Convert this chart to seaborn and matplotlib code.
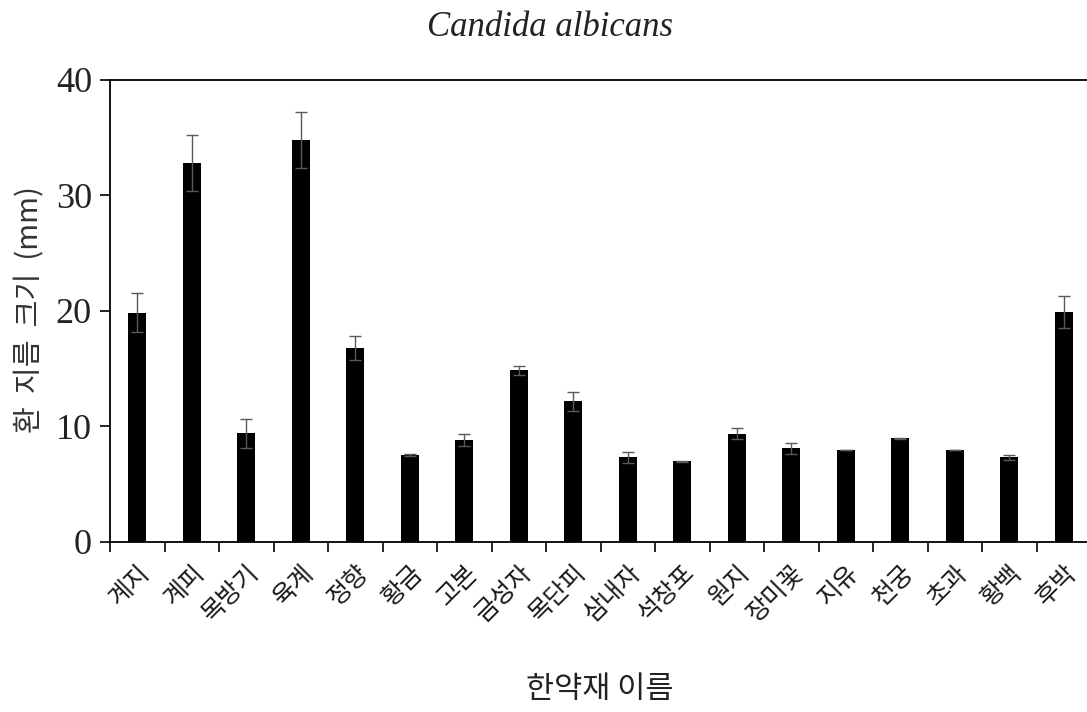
import matplotlib
matplotlib.use("Agg")
import matplotlib.pyplot as plt
import numpy as np
import pandas as pd
import seaborn as sns

# Inhibition zone of Candida albicans for each herbal extract
herbs = ["계지", "계피", "목방기", "육계", "정향", "황금", "고본", "금성자", "목단피",
         "삼내자", "석창포", "원지", "장미꽃", "지유", "천궁", "초과", "황백", "후박"]
zone_mm = [19.85, 32.8, 9.4, 34.8, 16.75, 7.5, 8.8, 14.85, 12.15,
           7.3, 6.95, 9.35, 8.1, 7.95, 8.95, 7.95, 7.3, 19.9]
zone_sd = [1.7, 2.4, 1.25, 2.4, 1.05, 0.08, 0.5, 0.38, 0.8,
           0.5, 0.05, 0.47, 0.48, 0.0, 0.06, 0.0, 0.23, 1.4]
y_ticks = [0, 10, 20, 30, 40]

KR = ["Noto Sans CJK KR", "DejaVu Sans"]
SERIF = ["Liberation Serif", "DejaVu Serif"]

sns.set_theme(style="white")
plt.rcParams["font.family"] = KR

df = pd.DataFrame({"herb": herbs, "zone": zone_mm, "sd": zone_sd})

fig = plt.figure(figsize=(10.87, 7.12), dpi=100)
ax = fig.add_axes([110 / 1087, 1 - 541.7 / 712, 981 / 1087, (541.7 - 80) / 712])

sns.barplot(data=df, x="herb", y="zone", color="black", width=0.33,
            saturation=1, errorbar=None, ax=ax, edgecolor="black", linewidth=0)
xpos = np.arange(len(herbs))
ax.errorbar(xpos, df["zone"], yerr=df["sd"], fmt="none", ecolor="#5a5a5a",
            elinewidth=1.0, capsize=4, capthick=1.0, zorder=5)

ax.set_xlim(-0.5, len(herbs) - 0.5)
ax.set_ylim(0, 40)

# Frame: left, bottom and top lines
for side in ["left", "bottom", "top"]:
    ax.spines[side].set_visible(True)
    ax.spines[side].set_color("black")
    ax.spines[side].set_linewidth(1.3)
ax.spines["right"].set_visible(False)

# Category names at bar centres, tick marks at category boundaries
ax.set_xticks(xpos)
ax.set_xticklabels(herbs, rotation=45, ha="right", rotation_mode="anchor",
                   fontsize=18, family=KR, color="#1a1a1a")
ax.tick_params(axis="x", which="major", length=0, pad=13)
ax.set_xticks(np.arange(-0.5, len(herbs), 1.0), minor=True)
ax.tick_params(axis="x", which="minor", length=7, width=1.2, direction="out",
               color="black", bottom=True)

ax.set_yticks(y_ticks)
ax.set_yticklabels([str(v) for v in y_ticks], fontsize=26, family=SERIF,
                   color="#222222")
ax.tick_params(axis="y", which="major", length=7, width=1.2, direction="out",
               color="black", left=True, pad=6)

ax.set_xlabel("")
ax.set_ylabel("")
ax.grid(False)

fig.text(600 / 1087, 1 - 690 / 712, "한약재 이름", ha="center", va="center",
         fontsize=22, family=KR, color="#222222")
fig.text(30 / 1087, 1 - 310 / 712, "환  지름  크기  (mm)", ha="center", va="center",
         rotation=90, fontsize=21, family=KR, color="#333333")

fig.text(550 / 1087, 1 - 28 / 712, "Candida albicans", ha="center", va="center",
         fontsize=25, style="italic", family=SERIF, color="#222222")

fig.savefig("out.png", dpi=100, facecolor="white")
